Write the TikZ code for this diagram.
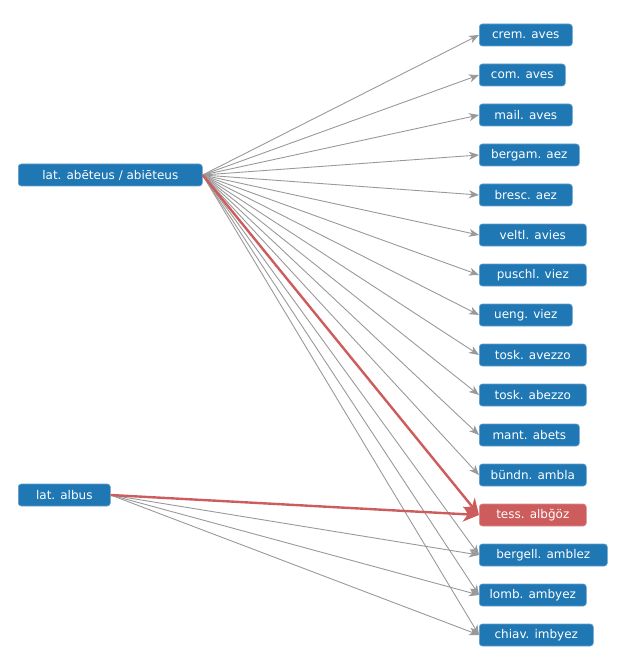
\documentclass[tikz,border=0pt]{standalone}
\usepackage{fontspec}
\setmainfont{DejaVu Sans}
\usetikzlibrary{arrows.meta}
\definecolor{nodeblue}{HTML}{1F77B4}
\definecolor{nodered}{HTML}{CD5C5C}
\definecolor{edgegray}{HTML}{999999}
\begin{document}
\begin{tikzpicture}[x=1pt,y=-1pt,
  lbl/.style={fill=nodeblue, draw=nodeblue!70!white, line width=0.6pt, rounded corners=3pt, text=white,
    font=\fontsize{12}{14}\selectfont, minimum height=22pt, inner sep=0pt, anchor=west},
  redlbl/.style={lbl, fill=nodered, draw=nodered!70!white},
  edge/.style={draw=edgegray, line width=0.9pt, -{Stealth[length=10pt,width=8pt,inset=3pt]}},
  redge/.style={draw=nodered, line width=2.4pt, -{Stealth[length=16pt,width=15pt,inset=5pt]}}]
\useasboundingbox (0,0) rectangle (621,660);
\node[lbl, minimum width=184pt] (abe) at (18,175) {lat. abēteus / abiēteus};
\node[lbl, minimum width=92pt] (alb) at (18,495) {lat. albus};
\node[lbl, minimum width=93pt] (t1) at (479,35) {crem. aves};
\node[lbl, minimum width=86pt] (t2) at (479,75) {com. aves};
\node[lbl, minimum width=93pt] (t3) at (479,115) {mail. aves};
\node[lbl, minimum width=100pt] (t4) at (479,155) {bergam. aez};
\node[lbl, minimum width=93pt] (t5) at (479,195) {bresc. aez};
\node[lbl, minimum width=107pt] (t6) at (479,235) {veltl. avies};
\node[lbl, minimum width=107pt] (t7) at (479,275) {puschl. viez};
\node[lbl, minimum width=93pt] (t8) at (479,315) {ueng. viez};
\node[lbl, minimum width=107pt] (t9) at (479,355) {tosk. avezzo};
\node[lbl, minimum width=107pt] (t10) at (479,395) {tosk. abezzo};
\node[lbl, minimum width=100pt] (t11) at (479,435) {mant. abets};
\node[lbl, minimum width=107pt] (t12) at (479,475) {bündn. ambla};
\node[redlbl, minimum width=107pt] (t13) at (479,515) {tess. albğöz};
\node[lbl, minimum width=128pt] (t14) at (479,555) {bergell. amblez};
\node[lbl, minimum width=107pt] (t15) at (479,595) {lomb. ambyez};
\node[lbl, minimum width=114pt] (t16) at (479,635) {chiav. imbyez};
\foreach \i in {1,...,12,14,15,16} {
  \draw[edge] (abe.east) -- (t\i.west);
}
\foreach \i in {14,15,16} {
  \draw[edge] (alb.east) -- (t\i.west);
}
\draw[redge] (abe.east) -- (t13.west);
\draw[redge] (alb.east) -- (t13.west);
\end{tikzpicture}
\end{document}
